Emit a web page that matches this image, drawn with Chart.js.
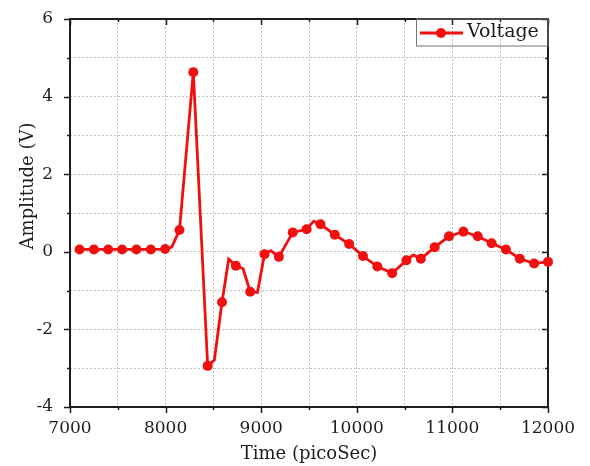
<!DOCTYPE html>
<html>
<head>
<meta charset="utf-8">
<script src="https://cdn.jsdelivr.net/npm/chart.js@4.4.1/dist/chart.umd.min.js"></script>
<style>
  body { margin: 0; background: #fff; }
  #wrap { width: 590px; height: 466px; }
</style>
</head>
<body>
<div id="wrap"><canvas id="line_chart1" width="590" height="466"></canvas></div>
<script>
// marker samples (time in ps, amplitude in V)
var timePs = [7100, 7250, 7400, 7545, 7695, 7845, 7995, 8145, 8290, 8440,
    8590, 8735, 8885, 9035, 9185, 9330, 9475, 9620, 9770, 9920,
    10065, 10215, 10370, 10520, 10670, 10815, 10965, 11115, 11265, 11410,
    11560, 11705, 11855, 12000];
var voltage = [0.06, 0.06, 0.06, 0.06, 0.06, 0.06, 0.07, 0.56, 4.63, -2.94,
    -1.30, -0.36, -1.03, -0.06, -0.13, 0.50, 0.58, 0.71, 0.44, 0.20,
    -0.11, -0.38, -0.55, -0.22, -0.18, 0.12, 0.40, 0.52, 0.40, 0.22,
    0.06, -0.18, -0.30, -0.26];
// extra line vertices without a marker (visible corners of the trace)
var cornerTimePs = [8065, 8510, 8660, 8810, 8960, 9100, 9550, 10590];
var cornerVoltage = [0.12, -2.79, -0.19, -0.43, -1.05, 0.03, 0.79, -0.08];

var xTicks = [7000, 8000, 9000, 10000, 11000, 12000];
var yTicks = [-4, -2, 0, 2, 4, 6];

var RED = '#f01010';
var INK = '#1e1e1e';
var FONT = '"DejaVu Serif", serif';

var points = [];
timePs.forEach(function (t, i) { points.push({ x: t, y: voltage[i], m: true }); });
cornerTimePs.forEach(function (t, i) { points.push({ x: t, y: cornerVoltage[i], m: false }); });
points.sort(function (a, b) { return a.x - b.x; });

var frame = {
    id: 'frame',
    beforeDatasetsDraw: function (chart) {
        var ctx = chart.ctx, a = chart.chartArea;
        var xs = chart.scales.x, ys = chart.scales.y;
        ctx.save();
        ctx.strokeStyle = INK;
        ctx.lineWidth = 1.5;
        ctx.beginPath();
        for (var v = 7000; v <= 12000; v += 500) {
            var px = Math.round(xs.getPixelForValue(v)) + 0.5;
            var len = (v % 1000 === 0) ? 6 : 3;
            ctx.moveTo(px, a.bottom); ctx.lineTo(px, a.bottom + len);
            ctx.moveTo(px, a.top); ctx.lineTo(px, a.top + len);
        }
        for (var w = -4; w <= 6; w += 1) {
            var py = Math.round(ys.getPixelForValue(w)) + 0.5;
            var l2 = (w % 2 === 0) ? 6 : 3;
            ctx.moveTo(a.left, py); ctx.lineTo(a.left - l2, py);
            ctx.moveTo(a.right, py); ctx.lineTo(a.right - l2, py);
        }
        ctx.stroke();
        ctx.lineWidth = 2;
        ctx.strokeRect(a.left, a.top, a.right - a.left, a.bottom - a.top);
        ctx.restore();
    },
    afterDraw: function (chart) {
        var ctx = chart.ctx, a = chart.chartArea;
        ctx.save();
        ctx.fillStyle = INK;
        ctx.font = '18px ' + FONT;
        ctx.textAlign = 'center';
        ctx.textBaseline = 'middle';
        ctx.fillText('Time (picoSec)', (a.left + a.right) / 2, 454);
        ctx.translate(28, 186);
        ctx.rotate(-Math.PI / 2);
        ctx.fillText('Amplitude (V)', 0, 0);
        ctx.restore();

        // legend box in the top right corner
        ctx.save();
        ctx.strokeStyle = '#777';
        ctx.lineWidth = 1;
        ctx.strokeRect(416.5, a.top, a.right - 416.5, 27);
        ctx.strokeStyle = RED;
        ctx.lineWidth = 3;
        ctx.beginPath();
        ctx.moveTo(420, a.top + 14); ctx.lineTo(463, a.top + 14);
        ctx.stroke();
        ctx.fillStyle = RED;
        ctx.beginPath();
        ctx.arc(441, a.top + 14, 5, 0, Math.PI * 2);
        ctx.fill();
        ctx.fillStyle = INK;
        ctx.font = '19px ' + FONT;
        ctx.textAlign = 'left';
        ctx.textBaseline = 'middle';
        ctx.fillText('Voltage', 467, a.top + 13);
        ctx.restore();
    }
};

new Chart(document.getElementById('line_chart1').getContext('2d'), {
    type: 'line',
    data: {
        datasets: [{
            label: 'Voltage',
            data: points,
            borderColor: RED,
            backgroundColor: RED,
            borderWidth: 2.8,
            tension: 0,
            pointRadius: function (c) { return c.raw && c.raw.m ? 5 : 0; },
            pointBorderWidth: 0,
            pointBackgroundColor: RED,
            clip: false
        }]
    },
    options: {
        responsive: false,
        animation: false,
        layout: { padding: { top: 19, right: 42, left: 0, bottom: 0 } },
        plugins: { legend: { display: false }, tooltip: { enabled: false } },
        scales: {
            x: {
                type: 'linear',
                min: 7000,
                max: 12000,
                afterFit: function (s) { s.height = 59; s.paddingLeft = 0; s.paddingRight = 0; },
                ticks: {
                    stepSize: 500,
                    autoSkip: false,
                    maxRotation: 0,
                    padding: 11,
                    color: INK,
                    font: { family: FONT, size: 17 },
                    callback: function (v) { return xTicks.indexOf(v) >= 0 ? String(v) : ''; }
                },
                grid: { color: '#bdbdbd', lineWidth: 1, drawTicks: false },
                border: { display: false, dash: [2, 2] }
            },
            y: {
                min: -4,
                max: 6,
                afterFit: function (s) { s.width = 70; s.paddingTop = 0; s.paddingBottom = 0; },
                ticks: {
                    stepSize: 1,
                    autoSkip: false,
                    padding: 17,
                    color: INK,
                    font: { family: FONT, size: 17 },
                    callback: function (v) { return yTicks.indexOf(v) >= 0 ? String(v) : ''; }
                },
                grid: { color: '#bdbdbd', lineWidth: 1, drawTicks: false },
                border: { display: false, dash: [2, 2] }
            }
        }
    },
    plugins: [frame]
});
</script>
</body>
</html>
